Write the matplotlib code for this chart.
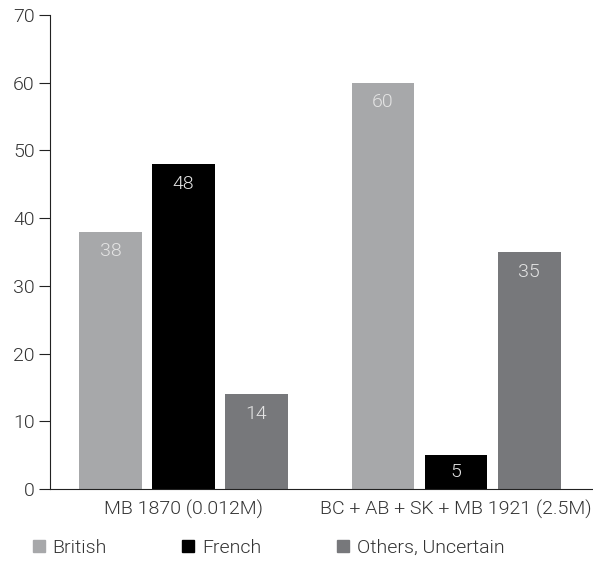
import numpy as np
import matplotlib
matplotlib.use("Agg")
import matplotlib.pyplot as plt
from matplotlib.lines import Line2D

groups = ["MB 1870 (0.012M)", "BC + AB + SK + MB 1921 (2.5M)"]
series = ["British", "French", "Others, Uncertain"]
british = [38, 60]
french = [48, 5]
others = [14, 35]
colors = ["#a7a8aa", "#000000", "#77787b"]
yticks = [0, 10, 20, 30, 40, 50, 60, 70]

plt.rcParams["font.family"] = ["Roboto", "DejaVu Sans"]
plt.rcParams["font.weight"] = 300

fig = plt.figure(figsize=(5.93, 5.63), dpi=100)
ax = fig.add_axes([50 / 593, 1 - 489 / 563, 1 - 50 / 593, (489 - 15) / 563])

x = np.arange(len(groups))
w = 0.231
step = 0.268
for i, (vals, col) in enumerate(zip([british, french, others], colors)):
    bars = ax.bar(x + (i - 1) * step, vals, width=w, color=col, label=series[i])
    for b, v in zip(bars, vals):
        # label near the top of the bar, or centred if the bar is short
        ax.text(b.get_x() + b.get_width() / 2, max(v - 2.9, v / 2), str(v),
                ha="center", va="center", color="#e4e4e4", fontsize=14, fontweight=300)

ax.set_xlim(-0.49, (593 - 183.5) / 272.5)
ax.set_ylim(0, 70)
ax.set_yticks(yticks)
ax.set_xticks(x)
ax.set_xticklabels(groups)
for s in ["top", "right"]:
    ax.spines[s].set_visible(False)
ax.spines["left"].set_color("#222222")
ax.spines["bottom"].set_color("#222222")
ax.tick_params(axis="y", length=8, color="#222222", labelsize=14, labelcolor="#333333", pad=3)
ax.tick_params(axis="x", length=0, labelsize=14, labelcolor="#333333", pad=8)

handles = [Line2D([], [], marker="s", linestyle="none", markersize=8, color=c) for c in colors]
fig.legend(handles, series, loc="center left", bbox_to_anchor=(30 / 593, 1 - 548 / 563), ncol=3,
           frameon=False, fontsize=14, handlelength=0.9, handletextpad=0.25, columnspacing=3.75,
           labelcolor="#333333", borderpad=0, borderaxespad=0)

fig.savefig("out.png", dpi=100)
